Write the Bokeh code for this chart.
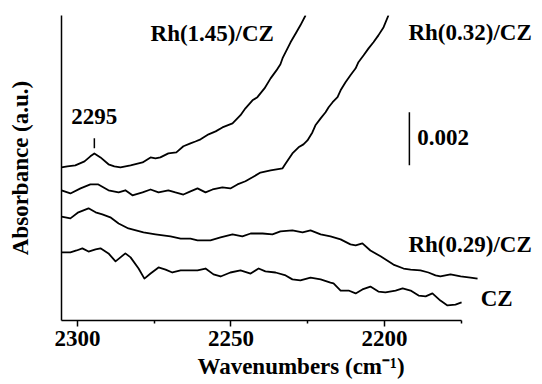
from bokeh.plotting import figure
from bokeh.models import Range1d, FixedTicker, Label
from bokeh.embed import file_html
from bokeh.resources import INLINE

# Wavenumbers (cm-1) and absorbance (units of 1e-3 a.u., vertically offset as in the figure)
x_rh145 = [2305.2, 2303.3, 2300.7, 2297.7, 2295.8, 2294.5, 2292.5, 2289.9, 2288.0, 2286.0,
           2282.7, 2278.8, 2276.2, 2274.6, 2273.0, 2270.4, 2267.8, 2265.5, 2263.2, 2261.6,
           2259.9, 2257.3, 2255.0, 2252.8, 2249.5, 2246.9, 2245.3, 2243.0, 2241.4, 2239.1,
           2237.1, 2235.2, 2233.9, 2233.2, 2230.6, 2228.7, 2227.4, 2225.7]
y_rh145 = [5.77, 5.81, 5.85, 6.00, 6.19, 6.30, 6.15, 5.89, 5.81, 5.77,
           5.85, 5.96, 6.15, 6.11, 6.15, 6.30, 6.34, 6.57, 6.68, 6.75,
           6.83, 7.02, 7.13, 7.28, 7.43, 7.74, 8.00, 8.30, 8.42, 8.75,
           9.13, 9.43, 9.66, 9.89, 10.49, 10.87, 11.13, 11.51]

x_rh032 = [2305.2, 2302.3, 2299.0, 2295.8, 2293.2, 2289.9, 2286.6, 2284.4, 2282.1, 2278.8,
           2276.2, 2273.6, 2270.4, 2268.1, 2265.5, 2263.2, 2260.9, 2258.3, 2256.0, 2252.8,
           2250.2, 2247.9, 2245.3, 2243.0, 2240.4, 2237.1, 2233.2, 2232.2, 2230.0, 2228.0,
           2226.4, 2225.1, 2223.5, 2222.5, 2220.8, 2219.2, 2218.2, 2216.9, 2215.3, 2214.3,
           2212.7, 2211.1, 2209.4, 2208.5, 2206.8, 2205.2, 2203.6, 2202.0, 2200.3, 2198.7]
y_rh032 = [4.91, 4.79, 4.98, 5.13, 5.13, 4.91, 4.83, 4.91, 4.72, 4.83,
           4.94, 4.83, 4.91, 4.83, 4.75, 4.87, 4.98, 4.83, 4.94, 5.02,
           4.98, 5.13, 5.25, 5.40, 5.58, 5.66, 5.74, 5.92, 6.30, 6.53,
           6.64, 6.79, 7.09, 7.36, 7.62, 7.85, 8.04, 8.23, 8.42, 8.68,
           8.98, 9.25, 9.51, 9.74, 10.00, 10.26, 10.49, 10.75, 11.06, 11.51]

x_rh029 = [2305.2, 2302.3, 2299.7, 2296.4, 2294.1, 2291.9, 2289.3, 2286.6, 2283.4, 2278.5,
           2274.6, 2269.7, 2266.4, 2263.2, 2260.9, 2256.7, 2253.4, 2249.5, 2246.3, 2243.6,
           2239.7, 2236.5, 2233.9, 2230.0, 2226.7, 2224.1, 2220.8, 2217.6, 2214.3, 2211.1,
           2209.4, 2207.2, 2204.6, 2201.3, 2197.1, 2193.8, 2191.5, 2188.3, 2185.7, 2183.4,
           2181.8, 2178.5, 2175.2, 2172.0, 2169.7]
y_rh029 = [3.92, 3.85, 4.08, 4.23, 4.08, 4.00, 3.89, 3.66, 3.47, 3.32,
           3.25, 3.17, 3.09, 3.09, 3.02, 3.02, 3.13, 3.25, 3.17, 3.28,
           3.28, 3.25, 3.36, 3.40, 3.32, 3.40, 3.25, 3.17, 3.06, 2.87,
           2.83, 2.91, 2.64, 2.42, 2.11, 1.96, 1.92, 1.89, 1.81, 1.70,
           1.66, 1.74, 1.66, 1.62, 1.58]

x_cz = [2305.2, 2302.3, 2300.3, 2298.4, 2296.4, 2294.1, 2292.5, 2289.9, 2287.6, 2286.0,
        2284.4, 2282.7, 2280.1, 2278.2, 2276.2, 2273.6, 2271.3, 2269.1, 2266.4, 2263.8,
        2260.9, 2258.3, 2255.7, 2253.4, 2250.2, 2246.9, 2243.6, 2241.0, 2238.8, 2235.5,
        2232.2, 2230.0, 2227.4, 2224.1, 2220.8, 2217.6, 2216.6, 2214.3, 2211.7, 2209.4,
        2207.2, 2204.6, 2202.0, 2199.7, 2196.4, 2194.1, 2191.5, 2188.9, 2186.6, 2184.4,
        2181.8, 2179.5, 2176.9, 2174.9]
y_cz = [2.57, 2.57, 2.64, 2.72, 2.60, 2.68, 2.72, 2.53, 2.23, 2.38,
        2.53, 2.38, 1.96, 1.58, 1.77, 2.00, 1.92, 1.81, 1.89, 1.89,
        1.89, 1.96, 1.74, 1.66, 1.81, 1.89, 1.77, 1.96, 1.85, 1.81,
        1.70, 1.55, 1.51, 1.62, 1.55, 1.43, 1.40, 1.13, 1.13, 1.02,
        1.17, 1.28, 1.09, 1.06, 1.13, 1.21, 1.13, 0.94, 0.91, 1.02,
        0.75, 0.57, 0.60, 0.68]

series_names = ["Rh(1.45)/CZ", "Rh(0.32)/CZ", "Rh(0.29)/CZ", "CZ"]
major_ticks = [2200, 2250, 2300]
minor_ticks = [2175, 2225, 2275]
peak_label = "2295"
peak_pos = 2294.5
scale_value = "0.002"
scale_len = 2.0

FONT = "Liberation Serif"

p = figure(frame_width=479, frame_height=305,
           x_range=Range1d(2305.2, 2149.2), y_range=Range1d(0, 11.5),
           min_border_left=61, min_border_top=15, min_border_right=0, min_border_bottom=5,
           output_backend="svg", toolbar_location=None)
p.outline_line_color = None
p.xgrid.visible = False
p.ygrid.visible = False
p.background_fill_color = "white"
p.border_fill_color = "white"

for xs, ys in [(x_rh145, y_rh145), (x_rh032, y_rh032), (x_rh029, y_rh029), (x_cz, y_cz)]:
    p.line(xs, ys, line_color="black", line_width=1.8, line_join="round")

# x axis
xa = p.xaxis[0]
xa.ticker = FixedTicker(ticks=major_ticks, minor_ticks=minor_ticks)
xa.bounds = (2175, 2305.2)
xa.axis_line_width = 1.5
xa.major_tick_line_width = 1.5
xa.minor_tick_line_width = 1.5
xa.major_tick_in = 0
xa.major_tick_out = 6
xa.minor_tick_in = 0
xa.minor_tick_out = 3
xa.major_label_text_font = FONT
xa.major_label_text_font_style = "bold"
xa.major_label_text_font_size = "23px"
xa.major_label_text_color = "black"
xa.major_label_standoff = 4
xa.axis_label = "Wavenumbers (cm\u207b\u00b9)"
xa.axis_label_text_font = FONT
xa.axis_label_text_font_style = "bold"
xa.axis_label_text_font_size = "23px"
xa.axis_label_text_color = "black"
xa.axis_label_standoff = 5

# y axis
ya = p.yaxis[0]
ya.ticker = FixedTicker(ticks=[])
ya.axis_line_width = 1.5
ya.major_tick_line_color = None
ya.minor_tick_line_color = None
ya.axis_label = "Absorbance (a.u.)"
ya.axis_label_text_font = FONT
ya.axis_label_text_font_style = "bold"
ya.axis_label_text_font_size = "23px"
ya.axis_label_text_color = "black"
ya.axis_label_standoff = 29

def add_label(x, y, text, align="left"):
    p.add_layout(Label(x=x, y=y, text=text, text_font=FONT, text_font_style="bold",
                       text_font_size="23px", text_color="black",
                       text_align=align, text_baseline="middle"))

add_label(2276.2, 10.83, series_names[0])
add_label(2192.2, 10.87, series_names[1])
add_label(2192.2, 2.87, series_names[2])
add_label(2168.7, 0.83, series_names[3])
add_label(2189.3, 6.91, scale_value)
add_label(peak_pos, 7.70, peak_label, align="center")

# peak marker and scale bar
p.segment(x0=[peak_pos], y0=[6.49], x1=[peak_pos], y1=[6.87], line_color="black", line_width=1.5)
p.segment(x0=[2191.9], y0=[5.85], x1=[2191.9], y1=[5.85 + scale_len], line_color="black", line_width=1.5)

open("out.html", "w").write(file_html(p, INLINE))
